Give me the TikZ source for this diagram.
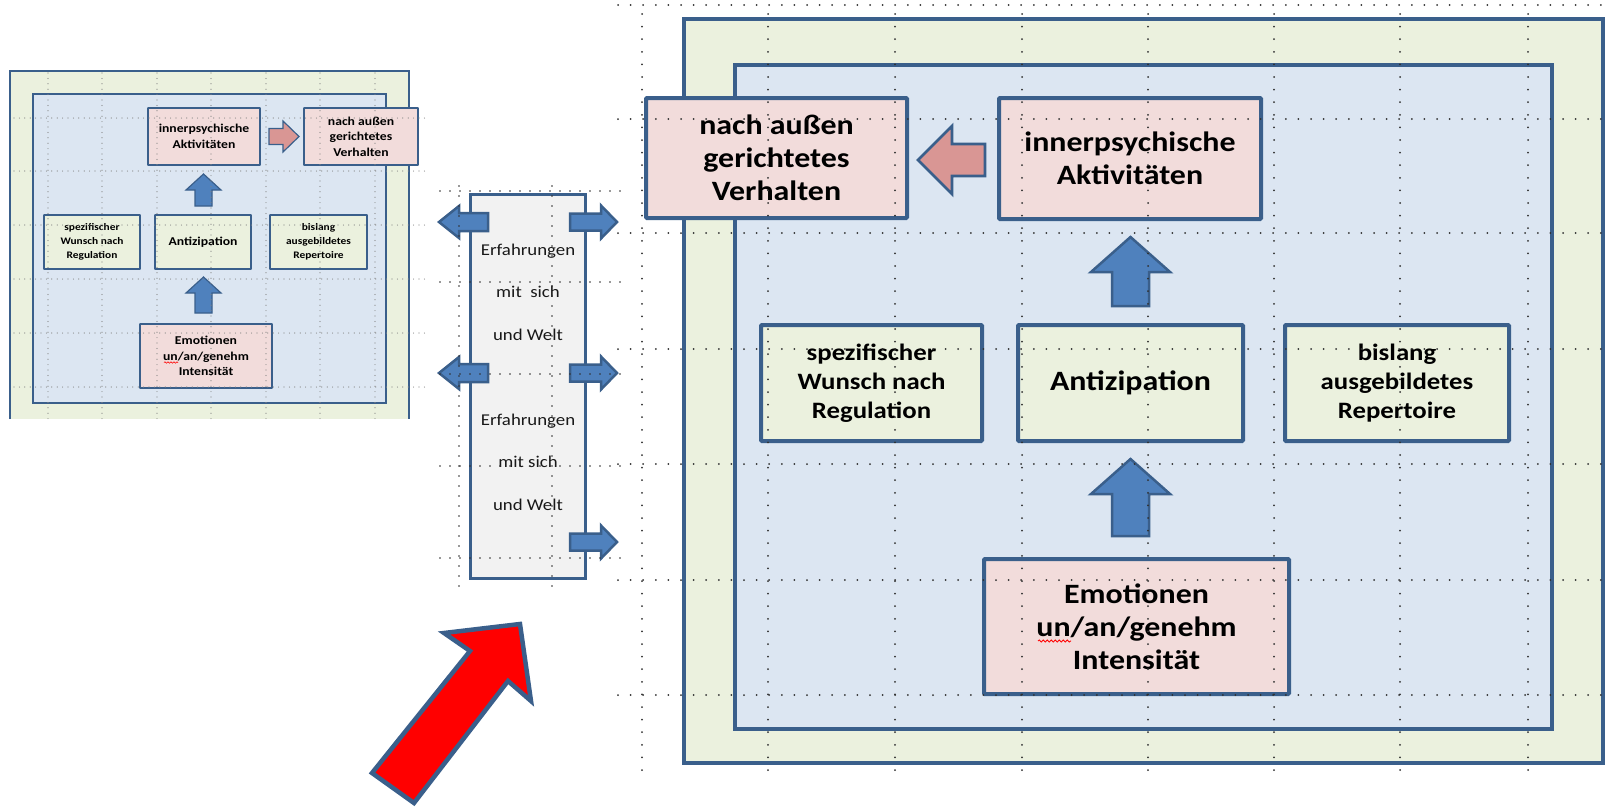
\documentclass[tikz,border=0pt]{standalone}
\usepackage{fontspec}
\setmainfont{Carlito}[FakeStretch=1.14]
\usetikzlibrary{decorations.pathmorphing}

\definecolor{edge}{HTML}{3A5F8B}
\definecolor{framegreen}{HTML}{EBF1DE}
\definecolor{frameblue}{HTML}{DCE6F2}
\definecolor{boxpink}{HTML}{F2DCDB}
\definecolor{boxgreen}{HTML}{EBF1DE}
\definecolor{arrowblue}{HTML}{4F81BD}
\definecolor{arrowpink}{HTML}{D99694}
\definecolor{colgray}{HTML}{F2F2F2}
\definecolor{griddot}{HTML}{303030}

% block arrow pointing up: style, centre x, tip y, head base y, bottom y, head half width, shaft half width
\newcommand\blockup[7]{%
  \filldraw[#1] (#2,#3) -- ({#2+#6},#4) -- ({#2+#7},#4) -- ({#2+#7},#5)
    -- ({#2-#7},#5) -- ({#2-#7},#4) -- ({#2-#6},#4) -- cycle;}
% horizontal block arrow: style, centre y, tip x, head base x, tail x, head half height, shaft half height
\newcommand\blockhoriz[7]{%
  \filldraw[#1] (#3,#2) -- (#4,{#2-#6}) -- (#4,{#2-#7}) -- (#5,{#2-#7})
    -- (#5,{#2+#7}) -- (#4,{#2+#7}) -- (#4,{#2+#6}) -- cycle;}

\begin{document}
\begin{tikzpicture}[x=1pt,y=-1pt,
  bigbox/.style={draw=edge, line width=4pt, rounded corners=1pt, align=center,
    inner sep=0pt, font=\bfseries\fontsize{28}{33}\selectfont},
  bigside/.style={bigbox, font=\bfseries\fontsize{23.5}{29}\selectfont},
  smallbox/.style={draw=edge, line width=1.8pt, rounded corners=0.5pt, align=center,
    inner sep=0pt, font=\bfseries\fontsize{12}{15.5}\selectfont},
  smallside/.style={smallbox, font=\bfseries\fontsize{10}{14}\selectfont},
  pinkfill/.style={fill=boxpink},
  greenfill/.style={fill=boxgreen},
  coltext/.style={align=center, inner sep=0pt, text=black!90,
    font=\fontsize{16.5}{42.5}\selectfont},
  bluearrow/.style={fill=arrowblue, draw=edge, line width=2.5pt, line join=miter},
  bluearrowsmall/.style={fill=arrowblue, draw=edge, line width=1.2pt, line join=miter},
  pinkarrow/.style={fill=arrowpink, draw=edge, line width=2.8pt, line join=miter},
  pinkarrowsmall/.style={fill=arrowpink, draw=edge, line width=1.2pt, line join=miter},
  bigdots/.style={griddot, line width=2pt, line cap=round, dash pattern=on 0pt off 12.6pt},
  coldots/.style={griddot, line width=1.8pt, line cap=round, dash pattern=on 0pt off 10pt},
  smalldots/.style={griddot!60, line width=1.2pt, line cap=round, dash pattern=on 0pt off 5.4pt},
  spell/.style={red, line width=0.8pt, decorate,
    decoration={snake, amplitude=1.1pt, segment length=4pt}},
]
\useasboundingbox (0,0) rectangle (1610,807);

% ---------- small overview diagram ----------
\fill[framegreen] (10,71) rectangle (409,419);
\draw[edge, line width=1.8pt] (10,419) -- (10,71) -- (409,71) -- (409,419);
\filldraw[fill=frameblue, draw=edge, line width=1.8pt] (33,94) rectangle (386,403);

\node[smallbox, pinkfill, minimum width=112pt, minimum height=57pt] (sInner) at (204,136.5)
  {innerpsychische\\Aktivitäten};
\node[smallbox, pinkfill, minimum width=114pt, minimum height=57pt] (sOuter) at (361,136.5)
  {nach außen\\gerichtetes\\Verhalten};
\node[smallside, greenfill, minimum width=96pt, minimum height=54pt] (sWish) at (92,242)
  {spezifischer\\Wunsch nach\\Regulation};
\node[smallbox, greenfill, minimum width=96pt, minimum height=54pt] (sAnti) at (203,242)
  {Antizipation};
\node[smallside, greenfill, minimum width=97pt, minimum height=54pt] (sRep) at (318.5,242)
  {bislang\\ausgebildetes\\Repertoire};
\node[smallbox, pinkfill, minimum width=132pt, minimum height=64pt] (sEmo) at (206,356)
  {Emotionen\\un/an/genehm\\Intensität};
\draw[spell, line width=0.6pt, decoration={snake, amplitude=0.7pt, segment length=3pt}]
  (164,362.5) -- (178,362.5);

\blockhoriz{pinkarrowsmall}{136.5}{299}{283}{269}{15.5}{8}
\blockup{bluearrowsmall}{203.5}{174}{190}{206}{17.5}{8.5}
\blockup{bluearrowsmall}{203.5}{277}{293}{313}{17.5}{8.5}

% ---------- middle column ----------
\node[draw=edge, fill=colgray, line width=3pt, minimum width=115pt, minimum height=384pt,
  inner sep=0pt] (column) at (528,386.5) {};
\node[coltext] (exp1) at (528,292) {Erfahrungen\\mit\ \ sich\\und Welt};
\node[coltext] (exp2) at (528,462) {Erfahrungen\\mit sich\\und Welt};

\blockhoriz{bluearrow}{222}{439}{459}{488}{16}{9}
\blockhoriz{bluearrow}{373}{439}{459}{488}{16}{9}
\blockhoriz{bluearrow}{222}{617}{601}{570}{16.5}{8.5}
\blockhoriz{bluearrow}{373}{617}{601}{570}{16.5}{8.5}
\blockhoriz{bluearrow}{542}{617}{601}{570}{16.5}{8.5}

% ---------- large diagram ----------
\filldraw[fill=framegreen, draw=edge, line width=4pt] (684,19) rectangle (1603,763);
\filldraw[fill=frameblue, draw=edge, line width=4pt] (735,65) rectangle (1552,729);

\node[bigbox, pinkfill, minimum width=261pt, minimum height=120pt] (outer) at (776.5,158)
  {nach außen\\gerichtetes\\Verhalten};
\node[bigbox, pinkfill, minimum width=262pt, minimum height=121pt] (inner) at (1130,158.5)
  {innerpsychische\\Aktivitäten};
\node[bigside, greenfill, minimum width=221pt, minimum height=116pt] (wish) at (871.5,383)
  {spezifischer\\Wunsch nach\\Regulation};
\node[bigbox, greenfill, minimum width=225pt, minimum height=116pt] (anti) at (1130.5,383)
  {Antizipation};
\node[bigside, greenfill, minimum width=224pt, minimum height=116pt] (rep) at (1397,383)
  {bislang\\ausgebildetes\\Repertoire};
\node[bigbox, pinkfill, minimum width=305pt, minimum height=135pt] (emo) at (1136.5,626.5)
  {Emotionen\\un/an/genehm\\Intensität};
\draw[spell] (1038,641) -- (1071,641);

\blockhoriz{pinkarrow}{160}{918}{952}{985}{34}{16}
\blockup{bluearrow}{1130.5}{237}{272}{306}{39.5}{18.5}
\blockup{bluearrow}{1130.5}{459}{494}{536}{39.5}{18.5}

% ---------- red pointer arrow ----------
\filldraw[fill=red, draw=edge, line width=4.5pt, line join=miter]
  (372,773) -- (470,651) -- (444,633) -- (520,624) -- (531,701) -- (508,681)
  -- (414,803) -- cycle;

% ---------- dotted guide grids ----------
\foreach \gx in {48,102,157,211,266,320,375}
  \draw[smalldots] (\gx,73) -- (\gx,419);
\foreach \gy in {118,171,225,279,333,387}
  \draw[smalldots] (14,\gy) -- (425,\gy);

\foreach \gx in {459,552}
  \draw[coldots] (\gx,186) -- (\gx,596);
\foreach \gy in {191,282,374,466,558}
  \draw[coldots] (440,\gy) -- (628,\gy);

\foreach \gx in {642,768,895,1022,1148,1274,1400,1528}
  \draw[bigdots] (\gx,14) -- (\gx,776);
\foreach \gy in {5,119,233,349,464,580,695}
  \draw[bigdots] (618,\gy) -- (1610,\gy);
\end{tikzpicture}
\end{document}
